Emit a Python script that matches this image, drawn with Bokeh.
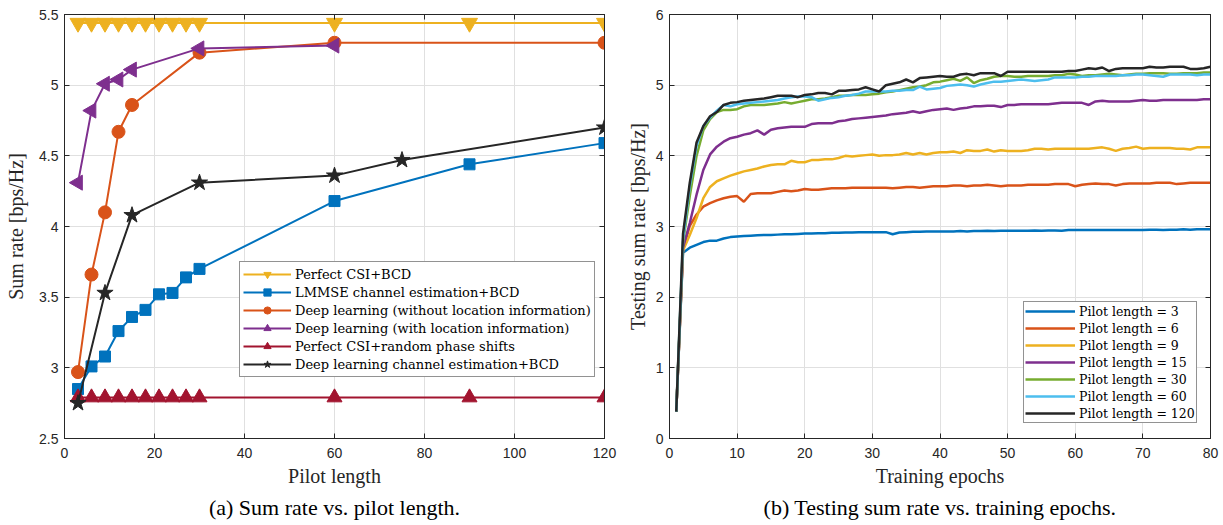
import math
from bokeh.plotting import figure
from bokeh.models import Range1d, LinearAxis, Legend, LegendItem, Title, FixedTicker
from bokeh.layouts import row
from bokeh.embed import file_html
from bokeh.resources import INLINE

# ---------------- data: (a) sum rate vs pilot length ----------------
pilot_all = [3, 6, 9, 12, 15, 18, 21, 24, 27, 30, 60, 90, 120]
perfect_bcd = [5.44, 5.44, 5.44, 5.44, 5.44, 5.44, 5.44, 5.44, 5.44, 5.44, 5.44, 5.44, 5.44]
lmmse_bcd = [2.85, 3.01, 3.08, 3.26, 3.36, 3.41, 3.52, 3.53, 3.64, 3.70, 4.18, 4.44, 4.59]
pilot_dl = [3, 6, 9, 12, 15, 30, 60, 120]
dl_noloc = [2.97, 3.66, 4.10, 4.67, 4.86, 5.23, 5.30, 5.30]
pilot_dl_loc = [3, 6, 9, 12, 15, 30, 60]
dl_loc = [4.31, 4.82, 5.01, 5.04, 5.11, 5.26, 5.28]
random_phase = [2.79, 2.79, 2.79, 2.79, 2.79, 2.79, 2.79, 2.79, 2.79, 2.79, 2.79, 2.79, 2.79]
pilot_dlce = [3, 9, 15, 30, 60, 75, 120]
dlce_bcd = [2.75, 3.53, 4.08, 4.31, 4.36, 4.47, 4.70]

names_a = ["Perfect CSI+BCD", "LMMSE channel estimation+BCD",
           "Deep learning (without location information)",
           "Deep learning (with location information)",
           "Perfect CSI+random phase shifts",
           "Deep learning channel estimation+BCD"]

# ---------------- data: (b) testing sum rate vs epochs ----------------
epochs = list(range(1, 81))
rate_p3 = [0.38, 2.63, 2.70, 2.74, 2.78, 2.80, 2.80, 2.83, 2.85, 2.86,
           2.865, 2.87, 2.875, 2.88, 2.88, 2.885, 2.89, 2.89, 2.895, 2.90,
           2.90, 2.905, 2.905, 2.91, 2.91, 2.915, 2.915, 2.92, 2.92, 2.92,
           2.92, 2.92, 2.89, 2.915, 2.92, 2.925, 2.925, 2.93, 2.93, 2.93,
           2.93, 2.93, 2.935, 2.93, 2.935, 2.935, 2.94, 2.935, 2.94, 2.94,
           2.94, 2.94, 2.94, 2.945, 2.94, 2.945, 2.945, 2.94, 2.95, 2.95,
           2.95, 2.95, 2.95, 2.95, 2.95, 2.95, 2.95, 2.95, 2.95, 2.95,
           2.955, 2.955, 2.95, 2.955, 2.955, 2.96, 2.955, 2.96, 2.96, 2.96]
rate_p6 = [0.38, 2.68, 3.01, 3.17, 3.28, 3.33, 3.37, 3.40, 3.42, 3.43,
           3.35, 3.46, 3.47, 3.47, 3.47, 3.49, 3.51, 3.50, 3.51, 3.53,
           3.52, 3.52, 3.53, 3.54, 3.54, 3.54, 3.55, 3.55, 3.55, 3.55,
           3.55, 3.55, 3.54, 3.55, 3.56, 3.56, 3.55, 3.56, 3.57, 3.57,
           3.57, 3.58, 3.58, 3.57, 3.58, 3.58, 3.59, 3.58, 3.57, 3.58,
           3.58, 3.58, 3.59, 3.59, 3.59, 3.59, 3.60, 3.60, 3.60, 3.57,
           3.59, 3.60, 3.61, 3.60, 3.60, 3.58, 3.60, 3.61, 3.61, 3.61,
           3.61, 3.62, 3.62, 3.62, 3.60, 3.61, 3.62, 3.62, 3.62, 3.62]
rate_p9 = [0.38, 2.66, 2.88, 3.12, 3.40, 3.56, 3.64, 3.68, 3.72, 3.75,
           3.78, 3.80, 3.82, 3.85, 3.87, 3.88, 3.88, 3.93, 3.91, 3.91,
           3.94, 3.94, 3.95, 3.95, 3.97, 4.00, 3.99, 4.00, 4.01, 4.02,
           4.00, 4.01, 4.01, 4.02, 4.04, 4.02, 4.04, 4.02, 4.04, 4.05,
           4.05, 4.06, 4.04, 4.08, 4.07, 4.07, 4.09, 4.06, 4.08, 4.07,
           4.07, 4.07, 4.08, 4.10, 4.10, 4.09, 4.10, 4.10, 4.10, 4.10,
           4.10, 4.10, 4.11, 4.12, 4.10, 4.07, 4.10, 4.11, 4.13, 4.10,
           4.11, 4.11, 4.11, 4.11, 4.10, 4.10, 4.09, 4.12, 4.12, 4.12]
rate_p15 = [0.38, 2.70, 3.05, 3.45, 3.80, 4.02, 4.13, 4.20, 4.25, 4.27,
            4.30, 4.32, 4.36, 4.30, 4.37, 4.39, 4.40, 4.41, 4.41, 4.41,
            4.45, 4.46, 4.46, 4.46, 4.49, 4.50, 4.52, 4.53, 4.54, 4.55,
            4.56, 4.57, 4.59, 4.60, 4.61, 4.63, 4.61, 4.63, 4.65, 4.66,
            4.67, 4.65, 4.67, 4.68, 4.70, 4.70, 4.71, 4.71, 4.69, 4.72,
            4.72, 4.73, 4.73, 4.73, 4.73, 4.73, 4.74, 4.75, 4.75, 4.75,
            4.75, 4.72, 4.77, 4.78, 4.77, 4.77, 4.77, 4.77, 4.78, 4.79,
            4.78, 4.78, 4.79, 4.79, 4.79, 4.79, 4.79, 4.79, 4.80, 4.80]
rate_p30 = [0.38, 2.78, 3.43, 4.00, 4.36, 4.52, 4.62, 4.65, 4.65, 4.66,
            4.70, 4.72, 4.72, 4.72, 4.73, 4.74, 4.76, 4.74, 4.76, 4.78,
            4.80, 4.80, 4.81, 4.83, 4.85, 4.85, 4.86, 4.86, 4.86, 4.87,
            4.88, 4.90, 4.91, 4.93, 4.95, 4.97, 4.98, 5.00, 5.04, 5.05,
            5.07, 5.09, 5.06, 5.11, 5.03, 5.07, 5.09, 5.12, 5.13, 5.13,
            5.12, 5.12, 5.13, 5.13, 5.13, 5.13, 5.14, 5.14, 5.16, 5.15,
            5.13, 5.14, 5.14, 5.15, 5.16, 5.15, 5.14, 5.15, 5.16, 5.16,
            5.17, 5.17, 5.17, 5.16, 5.16, 5.17, 5.17, 5.17, 5.18, 5.18]
rate_p60 = [0.38, 2.82, 3.57, 4.14, 4.42, 4.54, 4.64, 4.72, 4.70, 4.73,
            4.74, 4.75, 4.76, 4.77, 4.78, 4.79, 4.81, 4.83, 4.84, 4.84,
            4.83, 4.78, 4.80, 4.82, 4.83, 4.85, 4.86, 4.88, 4.91, 4.91,
            4.91, 4.91, 4.92, 4.92, 4.93, 4.93, 4.98, 4.94, 4.95, 4.96,
            4.99, 5.00, 5.01, 5.00, 4.98, 5.01, 5.03, 5.05, 5.05, 5.06,
            5.07, 5.08, 5.07, 5.06, 5.07, 5.08, 5.11, 5.11, 5.11, 5.11,
            5.12, 5.12, 5.13, 5.13, 5.13, 5.13, 5.14, 5.14, 5.15, 5.15,
            5.14, 5.13, 5.12, 5.15, 5.15, 5.15, 5.15, 5.14, 5.15, 5.15]
rate_p120 = [0.38, 2.90, 3.62, 4.19, 4.42, 4.56, 4.62, 4.72, 4.75, 4.76,
             4.78, 4.79, 4.80, 4.81, 4.83, 4.85, 4.85, 4.85, 4.83, 4.86,
             4.87, 4.89, 4.89, 4.87, 4.92, 4.92, 4.93, 4.94, 4.97, 4.94,
             4.91, 5.00, 5.02, 5.04, 5.08, 5.04, 5.10, 5.11, 5.12, 5.13,
             5.12, 5.12, 5.15, 5.16, 5.14, 5.17, 5.17, 5.17, 5.13, 5.19,
             5.19, 5.19, 5.19, 5.19, 5.19, 5.19, 5.19, 5.19, 5.20, 5.20,
             5.22, 5.24, 5.23, 5.25, 5.20, 5.23, 5.24, 5.24, 5.24, 5.24,
             5.26, 5.25, 5.25, 5.26, 5.26, 5.26, 5.23, 5.23, 5.24, 5.26]
pilot_lengths_b = [3, 6, 9, 15, 30, 60, 120]

# ---------------- styling ----------------
C_BLUE = "#0072BD"
C_ORANGE = "#D95319"
C_YELLOW = "#EDB120"
C_PURPLE = "#7E2F8E"
C_GREEN = "#77AC30"
C_CYAN = "#4DBEEE"
C_RED = "#A2142F"
C_BLACK = "#262626"
GRID = "#e0e0e0"
SERIF = "Liberation Serif"
LEG_SERIF = "DejaVu Serif"
SANS = "Liberation Sans"


def style(p, xticks, yticks, xlabel, ylabel, caption, ylab_standoff):
    p.outline_line_color = C_BLACK
    p.outline_line_width = 1
    p.xgrid.grid_line_color = GRID
    p.ygrid.grid_line_color = GRID
    p.xgrid.ticker = FixedTicker(ticks=xticks)
    p.ygrid.ticker = FixedTicker(ticks=yticks)
    for ax, ticks, lab in ((p.xaxis[0], xticks, xlabel), (p.yaxis[0], yticks, ylabel)):
        ax.ticker = FixedTicker(ticks=ticks)
        ax.axis_label = lab
        ax.axis_label_text_font = SERIF
        ax.axis_label_text_font_style = "normal"
        ax.axis_label_text_font_size = "20px"
        ax.axis_label_text_color = C_BLACK
        ax.major_label_text_font = SANS
        ax.major_label_text_font_size = "14px"
        ax.major_label_text_color = C_BLACK
        ax.axis_line_color = C_BLACK
        ax.major_tick_line_color = C_BLACK
        ax.major_tick_in = 5
        ax.major_tick_out = 0
        ax.minor_tick_line_color = None
    p.xaxis[0].axis_label_standoff = 4
    p.yaxis[0].axis_label_standoff = ylab_standoff
    p.xaxis[0].major_label_standoff = 9
    p.yaxis[0].major_label_standoff = 6
    for loc, ticks in (("right", yticks), ("above", xticks)):
        ax = LinearAxis(ticker=FixedTicker(ticks=ticks))
        ax.major_label_text_font_size = "0px"
        ax.major_label_text_color = None
        ax.major_label_standoff = 0
        ax.axis_line_color = C_BLACK
        ax.major_tick_line_color = C_BLACK
        ax.major_tick_in = 5
        ax.major_tick_out = 0
        ax.minor_tick_line_color = None
        p.add_layout(ax, loc)
    t = Title(text=caption, align="center", text_font=SERIF, text_font_size="22px",
              text_font_style="normal", text_color="black", offset=0, standoff=6)
    p.add_layout(t, "below")


# ---------------- figure (a) ----------------
pa = figure(width=618, height=525, output_backend="svg", toolbar_location=None,
            x_range=Range1d(0, 120), y_range=Range1d(2.5, 5.5),
            min_border_left=64, min_border_right=14, min_border_top=14, min_border_bottom=87)
style(pa, [0, 20, 40, 60, 80, 100, 120], [2.5, 3, 3.5, 4, 4.5, 5, 5.5],
      "Pilot length", "Sum rate [bps/Hz]", "(a) Sum rate vs. pilot length.", 9)

series_a = [
    (pilot_all, perfect_bcd, C_YELLOW, "inverted_triangle", 16, 0.0),
    (pilot_all, lmmse_bcd, C_BLUE, "square", 11, 0.0),
    (pilot_dl, dl_noloc, C_ORANGE, "circle", 13, 0.0),
    (pilot_dl_loc, dl_loc, C_PURPLE, "triangle", 15, math.pi / 2),
    (pilot_all, random_phase, C_RED, "triangle", 15, 0.0),
    (pilot_dlce, dlce_bcd, C_BLACK, "star", 17, 0.0),
]
items_a = []
for (xs, ys, col, mk, sz, ang), name in zip(series_a, names_a):
    l = pa.line(xs, ys, line_color=col, line_width=2)
    s = pa.scatter(xs, ys, marker=mk, size=sz, angle=ang, fill_color=col, line_color=col)
    items_a.append(LegendItem(label=name, renderers=[l, s]))

leg_a = Legend(items=items_a, location=(175, 61), orientation="vertical",
               label_text_font=LEG_SERIF, label_text_font_size="13px", label_text_color="black",
               glyph_width=48, glyph_height=18, label_height=18, spacing=0,
               padding=3, margin=0, label_standoff=4,
               border_line_color=C_BLACK, border_line_width=1,
               background_fill_color="white", background_fill_alpha=1)
pa.add_layout(leg_a, "center")

# ---------------- figure (b) ----------------
pb = figure(width=605, height=525, output_backend="svg", toolbar_location=None,
            x_range=Range1d(0, 80), y_range=Range1d(0, 6),
            min_border_left=51, min_border_right=13, min_border_top=14, min_border_bottom=87)
style(pb, [0, 10, 20, 30, 40, 50, 60, 70, 80], [0, 1, 2, 3, 4, 5, 6],
      "Training epochs", "Testing sum rate [bps/Hz]",
      "(b) Testing sum rate vs. training epochs.", 4)

series_b = [rate_p3, rate_p6, rate_p9, rate_p15, rate_p30, rate_p60, rate_p120]
colors_b = [C_BLUE, C_ORANGE, C_YELLOW, C_PURPLE, C_GREEN, C_CYAN, C_BLACK]
items_b = []
for ys, col, pl in zip(series_b, colors_b, pilot_lengths_b):
    l = pb.line(epochs, ys, line_color=col, line_width=2.5)
    items_b.append(LegendItem(label="Pilot length = %d" % pl, renderers=[l]))

leg_b = Legend(items=items_b, location=(354, 15), orientation="vertical",
               label_text_font=LEG_SERIF, label_text_font_size="12.5px", label_text_color="black",
               glyph_width=50, glyph_height=16, label_height=16, spacing=1,
               padding=1, margin=0, label_standoff=4,
               border_line_color=C_BLACK, border_line_width=1,
               background_fill_color="white", background_fill_alpha=1)
pb.add_layout(leg_b, "center")

layout = row(pa, pb)
open("out.html", "w").write(file_html(layout, INLINE))
